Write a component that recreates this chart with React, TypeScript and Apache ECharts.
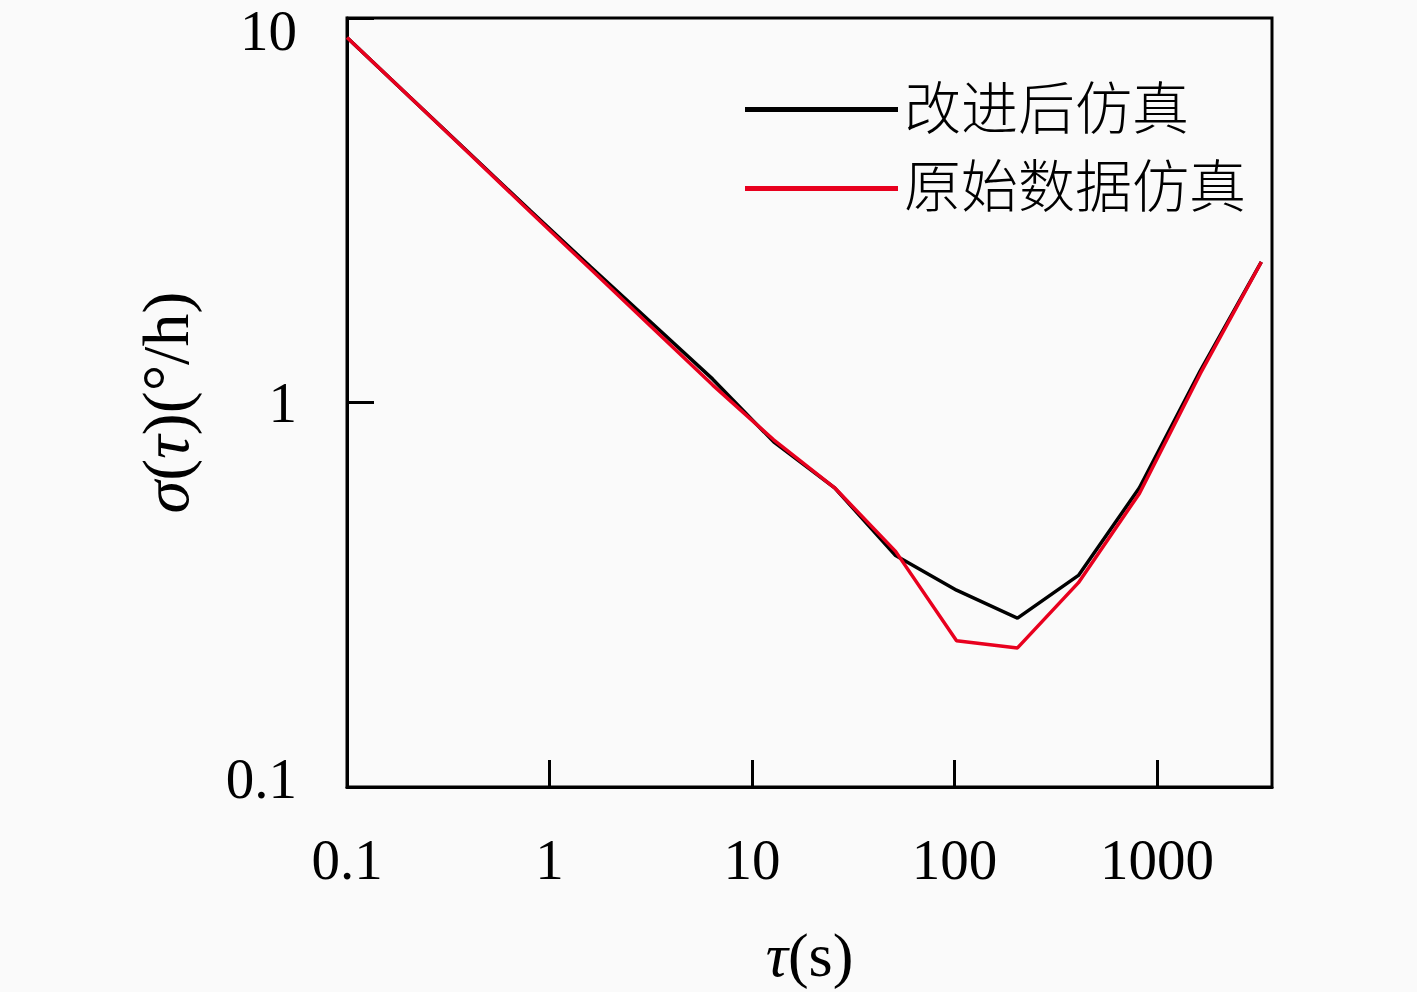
import React, { useEffect, useRef } from "react";
import * as echarts from "echarts";

const tauValues = [0.1, 0.2, 0.4, 0.8, 1.6, 3.2, 6.4, 12.8, 25.6, 51.2, 102.4, 204.8, 409.6, 819.2, 1638.4, 3276.8];
const improvedSigma = [8.9, 6.3, 4.46, 3.16, 2.25, 1.61, 1.15, 0.79, 0.6, 0.4, 0.325, 0.275, 0.355, 0.6, 1.21, 2.32];
const originalSigma = [8.9, 6.3, 4.45, 3.14, 2.22, 1.57, 1.11, 0.8, 0.6, 0.41, 0.24, 0.23, 0.34, 0.58, 1.19, 2.32];
const seriesNames = ["改进后仿真", "原始数据仿真"];

const serif = "'Liberation Serif', 'DejaVu Serif', serif";
const cjk = "'Noto Sans CJK SC', sans-serif";

export default function App() {
  const ref = useRef<HTMLDivElement>(null);
  useEffect(() => {
    document.body.style.margin = "0";
    const chart = echarts.init(ref.current!, null, { renderer: "svg" });
    const fmt = (v: number) => String(Math.round(v * 1000) / 1000);
    const labelFont = { fontFamily: serif, fontSize: 57, color: "#000" };
    const nameFont = { fontFamily: serif, fontSize: 62, color: "#000" };
    const yNameFont = { fontFamily: serif, fontSize: 66, color: "#000" };
    const legendFont = { fontFamily: cjk, fontSize: 57, fontWeight: 300, color: "#000" };
    chart.setOption({
      animation: false,
      backgroundColor: "#fafafa",
      grid: {
        left: 347,
        right: 145,
        top: 18,
        bottom: 205,
        show: true,
        borderColor: "#000",
        borderWidth: 3,
        containLabel: false,
        outerBoundsMode: "none",
      },
      legend: {
        orient: "vertical",
        left: 740,
        top: 70,
        icon: "rect",
        itemWidth: 153,
        itemHeight: 5,
        itemGap: 10,
        formatter: (name: string) => "{a|" + name + "}",
        textStyle: {
          ...legendFont,
          lineHeight: 64,
          rich: { a: { ...legendFont, lineHeight: 64, padding: [0, 0, 12, 1] } },
        },
        data: seriesNames,
      },
      xAxis: {
        type: "log",
        logBase: 10,
        min: 0.1,
        max: 3700,
        name: "{i|τ}(s)",
        nameLocation: "middle",
        nameGap: 137,
        nameTextStyle: {
          ...nameFont,
          rich: { i: { ...nameFont, fontStyle: "italic" } },
        },
        axisLine: { show: true, lineStyle: { color: "#000", width: 3 } },
        axisTick: { show: true, inside: true, length: 27, lineStyle: { color: "#000", width: 3 } },
        axisLabel: { ...labelFont, margin: 44, formatter: fmt, showMaxLabel: false },
        splitLine: { show: false },
        minorTick: { show: false },
      },
      yAxis: {
        type: "log",
        logBase: 10,
        min: 0.1,
        max: 10,
        name: "{i|σ}({i|τ})(°/h)",
        nameLocation: "middle",
        nameGap: 149,
        nameTextStyle: {
          ...yNameFont,
          rich: { i: { ...yNameFont, fontStyle: "italic" } },
        },
        axisLine: { show: true, lineStyle: { color: "#000", width: 3 } },
        axisTick: { show: true, inside: true, length: 27, lineStyle: { color: "#000", width: 3 } },
        axisLabel: {
          ...labelFont,
          margin: 50,
          formatter: (v: number) => {
            const s = fmt(v);
            if (v >= 9.99) return "{t|" + s + "}";
            if (v <= 0.101) return "{b|" + s + "}";
            return s;
          },
          rich: {
            t: { ...labelFont, lineHeight: 18, padding: [25, 0, 0, 0] },
            b: { ...labelFont, padding: [0, 0, 18, 0] },
          },
        },
        splitLine: { show: false },
      },
      series: [
        {
          name: seriesNames[0],
          type: "line",
          symbol: "none",
          data: tauValues.map((t, i) => [t, improvedSigma[i]]),
          lineStyle: { color: "#000", width: 3.5 },
          itemStyle: { color: "#000" },
          z: 2,
        },
        {
          name: seriesNames[1],
          type: "line",
          symbol: "none",
          data: tauValues.map((t, i) => [t, originalSigma[i]]),
          lineStyle: { color: "#e8001e", width: 3.5 },
          itemStyle: { color: "#e8001e" },
          z: 3,
        },
      ],
    });
    return () => chart.dispose();
  }, []);
  return <div ref={ref} style={{ width: 1417, height: 992 }} />;
}
